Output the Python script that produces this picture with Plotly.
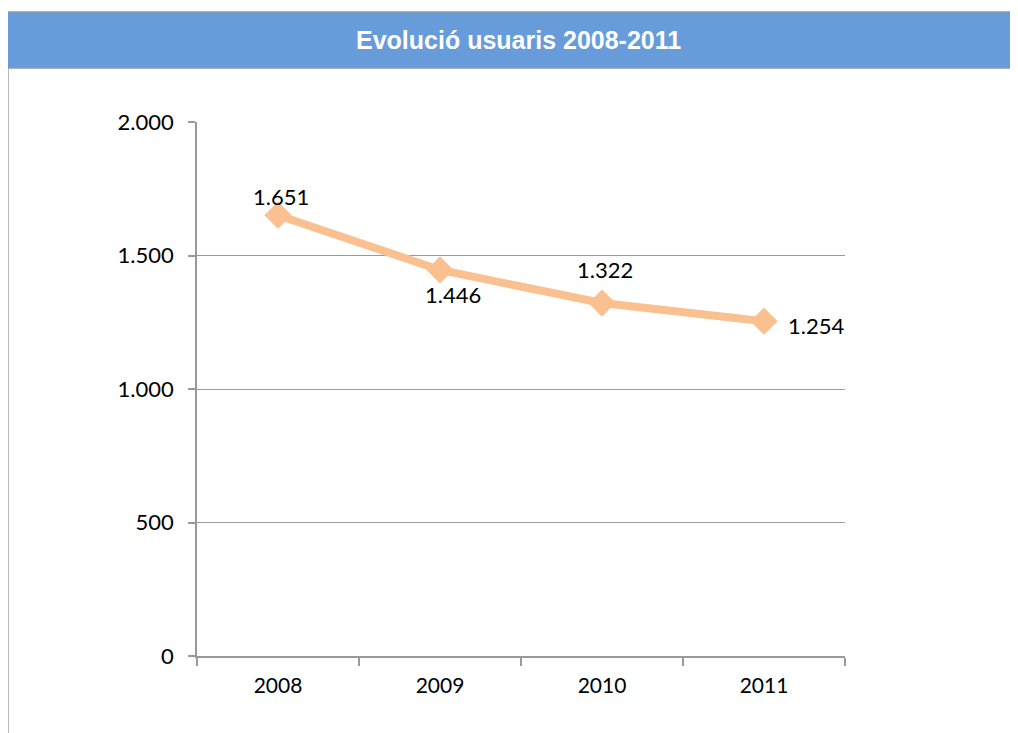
import plotly.graph_objects as go

years = ["2008", "2009", "2010", "2011"]
usuaris = [1651, 1446, 1322, 1254]
y_ticks = [0, 500, 1000, 1500, 2000]
# label offsets in pixels (style only)
label_dx = [3, 13, 3, 22]
label_dy = [19, -25, 34, -4]
label_anchor = ["center", "center", "center", "left"]

FONT = "Lato"
OFF = 8  # default body margin of the html page
L, R, T, B = 197, 845, 122, 656
W, H = 1018, 733

fig = go.Figure()
fig.add_trace(go.Scatter(
    x=years, y=usuaris,
    mode="lines+markers",
    line=dict(color="#FAC090", width=8),
    marker=dict(symbol="diamond", size=21, color="#FAC090"),
    cliponaxis=False,
    showlegend=False,
    hoverinfo="skip",
))

def px(x):
    return (x - L) / (R - L)
def py(y):
    return (B - y) / (B - T)

annotations = [
    dict(text="<b>Evolució usuaris 2008-2011</b>", xref="paper", yref="paper",
         x=px(518), y=py(40), showarrow=False, xanchor="center", yanchor="middle",
         font=dict(family="Liberation Sans", size=25, color="white")),
]
for i, (v, dx, dy, anc) in enumerate(zip(usuaris, label_dx, label_dy, label_anchor)):
    annotations.append(dict(
        xref="x", yref="y", x=i, y=v,
        text=f"{v:,}".replace(",", "."), showarrow=False,
        xshift=dx, yshift=dy, xanchor=anc, yanchor="middle",
        font=dict(family=FONT, size=22, color="#000000"),
    ))

fig.update_layout(
    width=W - OFF, height=H - OFF,
    margin=dict(l=L - OFF, r=W - R, t=T - OFF, b=H - B, pad=0),
    paper_bgcolor="white", plot_bgcolor="white",
    separators=",.",
    font=dict(family=FONT, size=21, color="#000000"),
    xaxis=dict(
        type="category", range=[-0.5, 3.5], tickson="boundaries",
        ticks="outside", ticklen=8, tickcolor="#999999", tickwidth=1.5,
        showline=True, linecolor="#999999", linewidth=1.5,
        showgrid=False, ticklabelstandoff=10,
        tickfont=dict(family=FONT, size=21),
    ),
    yaxis=dict(
        range=[0, 2000], tickvals=y_ticks, tickformat=",d",
        ticks="outside", ticklen=7, tickcolor="#999999", tickwidth=1.5,
        showline=True, linecolor="#999999", linewidth=1.5,
        showgrid=True, gridcolor="#999999", gridwidth=1.2,
        zeroline=False, ticklabelstandoff=10,
        tickfont=dict(family=FONT, size=22),
    ),
    shapes=[
        dict(type="rect", xref="paper", yref="paper",
             x0=px(5), x1=px(1030), y0=py(68), y1=py(12),
             fillcolor="#679BD9", line=dict(color="#8A9BB0", width=1.5), layer="below"),
        dict(type="line", xref="paper", yref="paper",
             x0=px(8), x1=px(8), y0=py(68), y1=py(740),
             line=dict(color="#A0A0A0", width=1.5)),
    ],
    annotations=annotations,
)

fig.write_html("out.html")
